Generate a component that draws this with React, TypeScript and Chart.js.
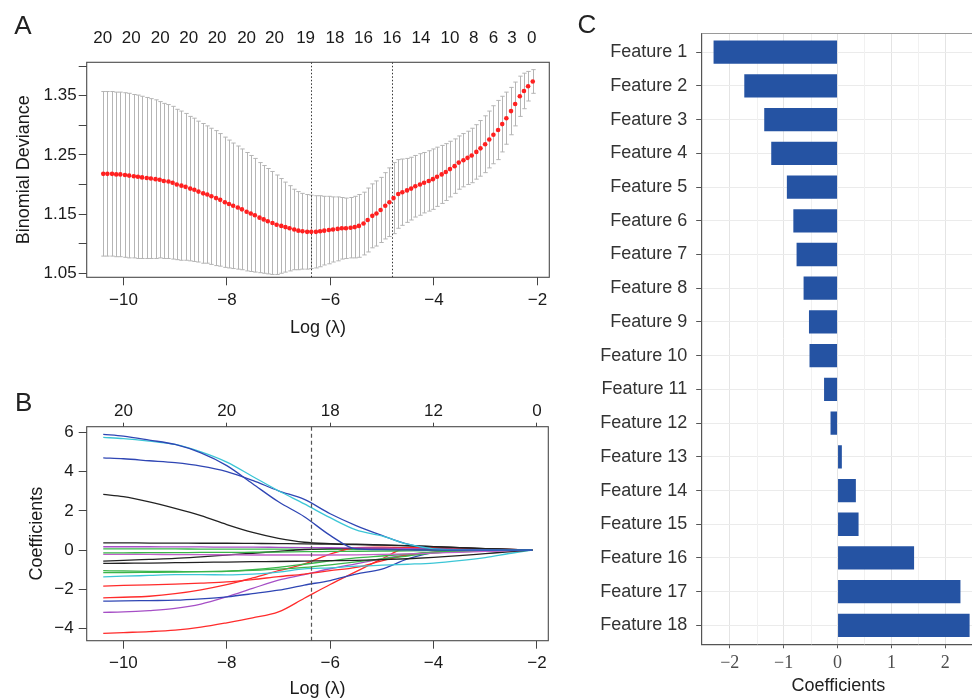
import React, { useEffect, useRef } from 'react';
import { Chart, registerables } from 'chart.js';

Chart.register(...registerables);

const SANS = '"Liberation Sans", Arial, sans-serif';
const SERIF = '"Liberation Serif", "Times New Roman", serif';
const MINUS = '\u2212';
const TXT = '#1a1a1a';

// ---------------- Panel A: cross-validation curve ----------------
const cvLogLambda = [
  -10.39, -10.31, -10.22, -10.14, -10.06, -9.97, -9.89, -9.8, -9.72, -9.64,
  -9.55, -9.47, -9.38, -9.3, -9.22, -9.13, -9.05, -8.97, -8.88, -8.8,
  -8.71, -8.63, -8.55, -8.46, -8.38, -8.3, -8.21, -8.13, -8.04, -7.96,
  -7.88, -7.79, -7.71, -7.62, -7.54, -7.46, -7.37, -7.29, -7.21, -7.12,
  -7.04, -6.95, -6.87, -6.79, -6.7, -6.62, -6.54, -6.45, -6.37, -6.28,
  -6.2, -6.12, -6.03, -5.95, -5.86, -5.78, -5.7, -5.61, -5.53, -5.45,
  -5.36, -5.28, -5.19, -5.11, -5.03, -4.94, -4.86, -4.78, -4.69, -4.61,
  -4.52, -4.44, -4.36, -4.27, -4.19, -4.1, -4.02, -3.94, -3.85, -3.77,
  -3.69, -3.6, -3.52, -3.43, -3.35, -3.27, -3.18, -3.1, -3.01, -2.93,
  -2.85, -2.76, -2.68, -2.6, -2.51, -2.43, -2.34, -2.26, -2.18, -2.09,
];
const cvMean = [
  1.218, 1.218, 1.218, 1.217, 1.217, 1.216, 1.215, 1.214, 1.213, 1.212,
  1.211, 1.21, 1.209, 1.208, 1.206, 1.205, 1.203, 1.2, 1.198, 1.196,
  1.193, 1.191, 1.188, 1.185, 1.183, 1.18, 1.177, 1.174, 1.17, 1.167,
  1.164, 1.161, 1.158, 1.154, 1.151, 1.148, 1.144, 1.141, 1.138, 1.135,
  1.132, 1.13, 1.128, 1.126, 1.124, 1.122, 1.121, 1.12, 1.12, 1.12,
  1.121, 1.122, 1.123, 1.124, 1.125, 1.126, 1.126, 1.127, 1.128, 1.13,
  1.134, 1.14, 1.147, 1.151, 1.157, 1.164, 1.17, 1.177, 1.184, 1.187,
  1.19, 1.193, 1.197, 1.2, 1.203, 1.206, 1.209, 1.213, 1.217, 1.221,
  1.226, 1.231, 1.237, 1.241, 1.245, 1.249, 1.255, 1.261, 1.268, 1.276,
  1.284, 1.292, 1.302, 1.312, 1.324, 1.336, 1.349, 1.358, 1.366, 1.374,
];
const cvSE = [
  0.139, 0.139, 0.139, 0.139, 0.139, 0.139, 0.139, 0.138, 0.138, 0.137,
  0.136, 0.135, 0.134, 0.132, 0.131, 0.13, 0.129, 0.127, 0.126, 0.124,
  0.122, 0.121, 0.119, 0.118, 0.116, 0.115, 0.114, 0.112, 0.11, 0.108,
  0.106, 0.104, 0.102, 0.1, 0.098, 0.096, 0.093, 0.091, 0.089, 0.087,
  0.084, 0.08, 0.076, 0.072, 0.068, 0.066, 0.064, 0.063, 0.062, 0.061,
  0.06, 0.058, 0.057, 0.055, 0.054, 0.052, 0.051, 0.051, 0.052, 0.053,
  0.053, 0.054, 0.054, 0.055, 0.055, 0.056, 0.058, 0.06, 0.058, 0.056,
  0.054, 0.053, 0.052, 0.052, 0.051, 0.051, 0.051, 0.05, 0.049, 0.048,
  0.047, 0.046, 0.045, 0.045, 0.045, 0.046, 0.046, 0.047, 0.048, 0.048,
  0.049, 0.05, 0.047, 0.044, 0.04, 0.037, 0.034, 0.03, 0.025, 0.02,
];
const lambdaMinLog = -6.38;
const lambda1seLog = -4.81;
const cvTopTickPos = [
  -10.4, -9.85, -9.29, -8.74, -8.19, -7.62, -7.08, -6.48, -5.91, -5.36, -4.81,
  -4.25, -3.69, -3.23, -2.85, -2.49, -2.11,
];
const cvTopTickLabels = [
  '20', '20', '20', '20', '20', '20', '20', '19', '18', '16', '16', '14', '10', '8', '6', '3', '0',
];
const cvYTicks = [1.05, 1.1, 1.15, 1.2, 1.25, 1.3, 1.35, 1.4];
const cvYTickLabels = ['1.05', '', '1.15', '', '1.25', '', '1.35', ''];
const logLambdaTicks = [-10, -8, -6, -4, -2];

// ---------------- Panel B: coefficient paths ----------------
const pathLogLambda = [
  -10.39, -10, -9.5, -9, -8.5, -8, -7.5, -7, -6.5, -6, -5.5, -5, -4.5, -4, -3.5, -3, -2.5, -2.09,
];
const path01 = [5.89, 5.8, 5.6, 5.38, 4.95, 4.3, 3.38, 2.46, 1.7, 0.75, 0.06, 0.02, 0.01, 0, 0, 0, 0, 0];
const path02 = [5.74, 5.68, 5.55, 5.38, 5.0, 4.48, 3.75, 3.02, 2.35, 1.65, 1.03, 0.72, 0.3, 0.06, 0.01, 0, 0, 0];
const path03 = [4.7, 4.65, 4.55, 4.45, 4.28, 4.0, 3.55, 3.02, 2.58, 1.85, 1.25, 0.75, 0.3, 0.06, 0, 0, 0, 0];
const path04 = [2.84, 2.72, 2.45, 2.12, 1.75, 1.3, 0.9, 0.6, 0.4, 0.33, 0.3, 0.27, 0.23, 0.18, 0.13, 0.08, 0.04, 0];
const path05 = [0.37, 0.37, 0.36, 0.36, 0.35, 0.35, 0.34, 0.33, 0.32, 0.3, 0.28, 0.25, 0.22, 0.18, 0.13, 0.08, 0.04, 0];
const path06 = [0.17, 0.17, 0.17, 0.16, 0.16, 0.15, 0.15, 0.14, 0.13, 0.12, 0.11, 0.1, 0.08, 0.06, 0.04, 0.03, 0.01, 0];
const path07 = [-0.14, -0.14, -0.13, -0.13, -0.12, -0.12, -0.11, -0.1, -0.08, -0.07, -0.06, -0.05, -0.04, -0.03, -0.02, -0.01, 0, 0];
const path08 = [-0.22, -0.22, -0.22, -0.23, -0.23, -0.24, -0.25, -0.25, -0.25, -0.25, -0.24, -0.22, -0.19, -0.15, -0.11, -0.07, -0.03, 0];
const path09 = [-0.56, -0.52, -0.47, -0.42, -0.34, -0.25, -0.16, -0.06, 0.03, 0.08, 0.09, 0.09, 0.08, 0.06, 0.04, 0.02, 0.01, 0];
const path10 = [-0.68, -0.67, -0.66, -0.64, -0.62, -0.61, -0.59, -0.58, -0.56, -0.54, -0.52, -0.49, -0.44, -0.37, -0.28, -0.18, -0.08, 0];
const path11 = [-1.05, -1.06, -1.08, -1.09, -1.1, -1.08, -1.0, -0.88, -0.72, -0.55, -0.4, -0.3, -0.2, -0.1, -0.05, -0.02, -0.01, 0];
const path12 = [-1.15, -1.14, -1.13, -1.12, -1.1, -1.07, -1.03, -0.97, -0.88, -0.75, -0.6, -0.45, -0.3, -0.15, -0.08, -0.04, -0.01, 0];
const path13 = [-1.36, -1.33, -1.29, -1.25, -1.25, -1.26, -1.22, -1.12, -0.96, -0.9, -0.82, -0.77, -0.72, -0.66, -0.54, -0.38, -0.16, 0];
const path14 = [-1.83, -1.8, -1.77, -1.73, -1.68, -1.62, -1.5, -1.35, -1.22, -1.05, -0.88, -0.55, -0.25, -0.12, -0.07, -0.04, -0.02, 0];
const path15 = [-2.43, -2.4, -2.35, -2.22, -2.02, -1.76, -1.42, -1.05, -0.7, -0.2, 0.12, 0.15, 0.12, 0.08, 0.05, 0.03, 0.01, 0];
const path16 = [-2.6, -2.59, -2.57, -2.55, -2.48, -2.38, -2.22, -2.04, -1.78, -1.55, -1.22, -0.97, -0.45, -0.13, -0.06, -0.03, -0.01, 0];
const path17 = [-3.17, -3.15, -3.08, -2.97, -2.75, -2.38, -1.95, -1.53, -1.25, -0.95, -0.7, -0.45, -0.25, -0.1, -0.04, -0.02, -0.01, 0];
const path18 = [-4.24, -4.2, -4.15, -4.07, -3.92, -3.7, -3.45, -3.15, -2.45, -1.75, -1.1, -0.45, 0.12, 0.14, 0.1, 0.06, 0.03, 0];
const path19 = [0.06, 0.06, 0.06, 0.06, 0.05, 0.05, 0.05, 0.05, 0.04, 0.04, 0.03, 0.03, 0.02, 0.02, 0.01, 0.01, 0, 0];
const pathSeries = [path01, path02, path03, path04, path05, path06, path07, path08, path09, path10, path11, path12, path13, path14, path15, path16, path17, path18, path19];
const pathColors = [
  '#2f46b4', '#3cc6d6', '#2f46b4', '#222222', '#222222', '#a64fc6', '#3ab54a', '#c060c8', '#222222', '#222222',
  '#3ab54a', '#3ab54a', '#3cc6d6', '#ff2b2b', '#ff2b2b', '#2f46b4', '#a64fc6', '#ff2b2b', '#3ab54a',
];
const pathTopLabels = ['20', '20', '18', '12', '0'];
const coefYTicks = [-4, -2, 0, 2, 4, 6];

// ---------------- Panel C: coefficients bar chart ----------------
const features = [
  'Feature 1', 'Feature 2', 'Feature 3', 'Feature 4', 'Feature 5', 'Feature 6', 'Feature 7', 'Feature 8', 'Feature 9',
  'Feature 10', 'Feature 11', 'Feature 12', 'Feature 13', 'Feature 14', 'Feature 15', 'Feature 16', 'Feature 17', 'Feature 18',
];
const featureCoefs = [
  -2.3, -1.73, -1.36, -1.23, -0.94, -0.82, -0.76, -0.63, -0.53, -0.52, -0.25, -0.13, 0.08, 0.34, 0.39, 1.42, 2.28, 2.45,
];
const coefTicks = [-2, -1, 0, 1, 2];
const coefMinorTicks = [-1.5, -0.5, 0.5, 1.5, 2.5];

const fmt = (v: number) => (v < 0 ? MINUS + String(Math.abs(v)) : String(v));

function drawBox(chart: any, color: string) {
  const { ctx, chartArea: a } = chart;
  ctx.save();
  ctx.strokeStyle = color;
  ctx.lineWidth = 1.1;
  ctx.strokeRect(a.left, a.top, a.right - a.left, a.bottom - a.top);
  ctx.restore();
}

function drawLetter(chart: any, letter: string, cx: number, cy: number) {
  const { ctx } = chart;
  ctx.save();
  ctx.font = `26px ${SANS}`;
  ctx.fillStyle = '#222';
  ctx.textAlign = 'center';
  ctx.textBaseline = 'alphabetic';
  ctx.fillText(letter, cx, cy + 0.358 * 26);
  ctx.restore();
}

function PanelA() {
  const ref = useRef<HTMLCanvasElement>(null);
  useEffect(() => {
    const plugin = {
      id: 'panelA',
      beforeDatasetsDraw(chart: any) {
        const { ctx, chartArea: a, scales } = chart;
        const x = scales.x;
        const y = scales.y;
        ctx.save();
        ctx.strokeStyle = '#b5b5b5';
        ctx.lineWidth = 1;
        ctx.beginPath();
        cvLogLambda.forEach((lv, i) => {
          const px = Math.round(x.getPixelForValue(lv)) + 0.5;
          const yt = y.getPixelForValue(cvMean[i] + cvSE[i]);
          const yb = y.getPixelForValue(cvMean[i] - cvSE[i]);
          ctx.moveTo(px, yt);
          ctx.lineTo(px, yb);
          ctx.moveTo(px - 2.2, yt);
          ctx.lineTo(px + 2.2, yt);
          ctx.moveTo(px - 2.2, yb);
          ctx.lineTo(px + 2.2, yb);
        });
        ctx.stroke();
        ctx.strokeStyle = '#333';
        ctx.setLineDash([1.5, 2]);
        [lambdaMinLog, lambda1seLog].forEach((v) => {
          const px = Math.round(x.getPixelForValue(v)) + 0.5;
          ctx.beginPath();
          ctx.moveTo(px, a.top);
          ctx.lineTo(px, a.bottom);
          ctx.stroke();
        });
        ctx.restore();
      },
      afterDraw(chart: any) {
        drawBox(chart, '#4a4a4a');
        drawLetter(chart, 'A', 23, 25);
      },
    };
    const chart = new Chart(ref.current!, {
      type: 'scatter',
      data: {
        datasets: [
          {
            data: cvLogLambda.map((lv, i) => ({ x: lv, y: cvMean[i] })),
            pointRadius: 2.3,
            pointBackgroundColor: '#ff2020',
            pointBorderWidth: 0,
            showLine: false,
          },
        ],
      },
      options: {
        responsive: false,
        animation: false,
        events: [],
        layout: { padding: { left: 0, right: 10.7, top: 0, bottom: 0 } },
        plugins: { legend: { display: false }, tooltip: { enabled: false } },
        scales: {
          x: {
            type: 'linear',
            position: 'bottom',
            min: -10.71,
            max: -1.77,
            afterBuildTicks: (s: any) => { s.ticks = logLambdaTicks.map((v) => ({ value: v })); },
            afterFit: (s: any) => { s.height = 67.7; },
            ticks: { autoSkip: false, maxRotation: 0, padding: 4.5, color: TXT, font: { family: SANS, size: 17 }, callback: (v: any) => fmt(Number(v)) },
            grid: { drawOnChartArea: false, drawTicks: true, tickLength: 8, color: '#444' },
            border: { display: false },
            title: { display: true, text: 'Log (λ)', color: TXT, font: { family: SANS, size: 18 }, padding: { top: 0, bottom: 6.2 } },
          },
          x2: {
            type: 'linear',
            axis: 'x',
            position: 'top',
            min: -10.71,
            max: -1.77,
            afterBuildTicks: (s: any) => { s.ticks = cvTopTickPos.map((v) => ({ value: v })); },
            afterFit: (s: any) => { s.height = 62.3; },
            ticks: { autoSkip: false, maxRotation: 0, padding: 6.1, color: TXT, font: { family: SANS, size: 17 }, callback: (_v: any, i: number) => cvTopTickLabels[i] },
            grid: { display: false },
            border: { display: false },
          },
          y: {
            type: 'linear',
            position: 'left',
            min: 1.0432,
            max: 1.4064,
            afterBuildTicks: (s: any) => { s.ticks = cvYTicks.map((v) => ({ value: v })); },
            afterFit: (s: any) => { s.width = 86.7; },
            ticks: { autoSkip: false, padding: 2, color: TXT, font: { family: SANS, size: 17 }, callback: (_v: any, i: number) => cvYTickLabels[i] },
            grid: { drawOnChartArea: false, drawTicks: true, tickLength: 8, color: '#444' },
            border: { display: false },
            title: { display: true, text: 'Binomial Deviance', color: TXT, font: { family: SANS, size: 18 }, padding: { top: 13.2, bottom: 0 } },
          },
        },
      } as any,
      plugins: [plugin],
    });
    return () => chart.destroy();
  }, []);
  return <canvas ref={ref} width={560} height={345} style={{ position: 'absolute', left: 0, top: 0, width: 560, height: 345 }} />;
}

function PanelB() {
  const ref = useRef<HTMLCanvasElement>(null);
  useEffect(() => {
    const plugin = {
      id: 'panelB',
      afterDatasetsDraw(chart: any) {
        const { ctx, chartArea: a, scales } = chart;
        const px = Math.round(scales.x.getPixelForValue(lambdaMinLog)) + 0.5;
        ctx.save();
        ctx.strokeStyle = '#555';
        ctx.lineWidth = 1.2;
        ctx.setLineDash([4, 3]);
        ctx.beginPath();
        ctx.moveTo(px, a.top);
        ctx.lineTo(px, a.bottom);
        ctx.stroke();
        ctx.restore();
      },
      afterDraw(chart: any) {
        drawBox(chart, '#4a4a4a');
        drawLetter(chart, 'B', 23.7, 56.7);
      },
    };
    const chart = new Chart(ref.current!, {
      type: 'line',
      data: {
        datasets: pathSeries.map((s, k) => ({
          data: pathLogLambda.map((lv, i) => ({ x: lv, y: s[i] })),
          borderColor: pathColors[k],
          borderWidth: 1.3,
          pointRadius: 0,
          fill: false,
          cubicInterpolationMode: 'monotone',
        })),
      },
      options: {
        responsive: false,
        animation: false,
        events: [],
        layout: { padding: { left: 0, right: 11.7, top: 0, bottom: 0 } },
        plugins: { legend: { display: false }, tooltip: { enabled: false } },
        scales: {
          x: {
            type: 'linear',
            position: 'bottom',
            min: -10.71,
            max: -1.78,
            afterBuildTicks: (s: any) => { s.ticks = logLambdaTicks.map((v) => ({ value: v })); },
            afterFit: (s: any) => { s.height = 59.3; },
            ticks: { autoSkip: false, maxRotation: 0, padding: 4.4, color: TXT, font: { family: SANS, size: 17 }, callback: (v: any) => fmt(Number(v)) },
            grid: { drawOnChartArea: false, drawTicks: true, tickLength: 8, color: '#444' },
            border: { display: false },
            title: { display: true, text: 'Log (λ)', color: TXT, font: { family: SANS, size: 18 }, padding: { top: 0, bottom: 0 } },
          },
          x2: {
            type: 'linear',
            axis: 'x',
            position: 'top',
            min: -10.71,
            max: -1.78,
            afterBuildTicks: (s: any) => { s.ticks = logLambdaTicks.map((v) => ({ value: v })); },
            afterFit: (s: any) => { s.height = 81.7; },
            ticks: { autoSkip: false, maxRotation: 0, padding: 1.3, color: TXT, font: { family: SANS, size: 17 }, callback: (_v: any, i: number) => pathTopLabels[i] },
            grid: { drawOnChartArea: false, drawTicks: true, tickLength: 4, color: '#444' },
            border: { display: false },
          },
          y: {
            type: 'linear',
            position: 'left',
            min: -4.613,
            max: 6.283,
            afterBuildTicks: (s: any) => { s.ticks = coefYTicks.map((v) => ({ value: v })); },
            afterFit: (s: any) => { s.width = 86.7; },
            ticks: { autoSkip: false, padding: 5, color: TXT, font: { family: SANS, size: 17 }, callback: (v: any) => fmt(Number(v)) },
            grid: { drawOnChartArea: false, drawTicks: true, tickLength: 8, color: '#444' },
            border: { display: false },
            title: { display: true, text: 'Coefficients', color: TXT, font: { family: SANS, size: 18 }, padding: { top: 26, bottom: 0 } },
          },
        },
      } as any,
      plugins: [plugin],
    });
    return () => chart.destroy();
  }, []);
  return <canvas ref={ref} width={560} height={355} style={{ position: 'absolute', left: 0, top: 345, width: 560, height: 355 }} />;
}

function PanelC() {
  const ref = useRef<HTMLCanvasElement>(null);
  useEffect(() => {
    const plugin = {
      id: 'panelC',
      beforeDatasetsDraw(chart: any) {
        const { ctx, chartArea: a, scales } = chart;
        ctx.save();
        ctx.strokeStyle = '#f1f1f1';
        ctx.lineWidth = 1;
        coefMinorTicks.forEach((v) => {
          const px = Math.round(scales.x.getPixelForValue(v)) + 0.5;
          if (px < a.left || px > a.right) return;
          ctx.beginPath();
          ctx.moveTo(px, a.top);
          ctx.lineTo(px, a.bottom);
          ctx.stroke();
        });
        ctx.restore();
      },
      afterDraw(chart: any) {
        const { ctx, chartArea: a } = chart;
        ctx.save();
        ctx.strokeStyle = '#9a9a9a';
        ctx.lineWidth = 1;
        ctx.beginPath();
        ctx.moveTo(a.left, Math.round(a.top) + 0.5);
        ctx.lineTo(a.right, Math.round(a.top) + 0.5);
        ctx.stroke();
        ctx.restore();
        drawLetter(chart, 'C', 27, 23.3);
      },
    };
    const chart = new Chart(ref.current!, {
      type: 'bar',
      data: {
        datasets: [
          {
            data: featureCoefs.map((v, i) => ({ x: v, y: i + 1 })),
            backgroundColor: '#2553a3',
            borderWidth: 0,
            barPercentage: 0.69,
            categoryPercentage: 1,
          },
        ],
      },
      options: {
        indexAxis: 'y',
        responsive: false,
        animation: false,
        events: [],
        layout: { padding: { left: 0, right: 0, top: 33.3, bottom: 0 } },
        plugins: { legend: { display: false }, tooltip: { enabled: false } },
        scales: {
          x: {
            type: 'linear',
            position: 'bottom',
            min: -2.52,
            max: 2.55,
            afterBuildTicks: (s: any) => { s.ticks = coefTicks.map((v) => ({ value: v })); },
            afterFit: (s: any) => { s.height = 55.7; },
            ticks: { autoSkip: false, maxRotation: 0, padding: 4.2, color: '#4d4d4d', font: { family: SERIF, size: 18 }, callback: (v: any) => fmt(Number(v)) },
            grid: { offset: false, color: '#e4e4e4', tickColor: '#555', tickLength: 4, lineWidth: 1 },
            border: { display: true, color: '#555', width: 1.2 },
            title: { display: true, text: 'Coefficients', color: '#222', font: { family: SANS, size: 18 }, padding: { top: 0, bottom: 3.5 } },
          },
          y: {
            type: 'linear',
            position: 'left',
            reverse: true,
            offset: false,
            min: 0.44,
            max: 18.56,
            afterBuildTicks: (s: any) => { s.ticks = features.map((_f, i) => ({ value: i + 1 })); },
            afterFit: (s: any) => { s.width = 141.7; },
            ticks: { autoSkip: false, padding: 8.9, color: '#333', font: { family: SANS, size: 18 }, callback: (_v: any, i: number) => features[i] },
            grid: { offset: false, color: '#ebebeb', tickColor: '#555', tickLength: 5.5, lineWidth: 1 },
            border: { display: true, color: '#555', width: 1.2 },
          },
        },
      } as any,
      plugins: [plugin],
    });
    return () => chart.destroy();
  }, []);
  return <canvas ref={ref} width={415} height={700} style={{ position: 'absolute', left: 560, top: 0, width: 415, height: 700 }} />;
}

export default function App() {
  return (
    <div style={{ position: 'fixed', left: 0, top: 0, width: 972, height: 700, overflow: 'hidden', background: '#fff' }}>
      <PanelA />
      <PanelB />
      <PanelC />
    </div>
  );
}
